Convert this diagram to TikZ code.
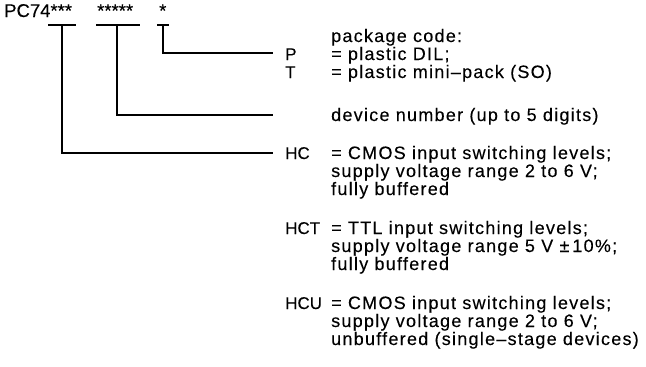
\documentclass[tikz,border=0pt]{standalone}
\usepackage{fontspec}
\setmainfont{Liberation Sans}[FakeBold=0.15]
\newfontfamily\descfont{Liberation Sans}[LetterSpace=7,FakeBold=0.15]
\begin{document}
\begin{tikzpicture}[x=1pt,y=-1pt,
  lbl/.style={anchor=base west,inner sep=0pt,font=\fontsize{17}{18}\selectfont},
  hdr/.style={anchor=base west,inner sep=0pt,font=\fontsize{18.5}{18}\selectfont},
  txt/.style={anchor=base west,inner sep=0pt,font=\descfont\fontsize{18}{18}\selectfont},
  bar/.style={line width=1.8pt}]
\useasboundingbox (0,0) rectangle (646,367);
% code header
\node[hdr] (pc) at (4,17) {PC74***};
\node[hdr] (s5) at (97,17) {*****};
\node[hdr] (s1) at (159,17) {*};
% left labels
\node[lbl] (p) at (285,60) {P};
\node[lbl] (t) at (285,78) {T};
\node[lbl] (hc) at (285,159) {HC};
\node[lbl] (hct) at (285,234) {HCT};
\node[lbl] (hcu) at (285,309) {HCU};
% right descriptions
\node[txt] (pk) at (331,42) {package code:};
\node[txt] (pk1) at (331,60) {= plastic DIL;};
\node[txt] (pk2) at (331,78) {= plastic mini–pack (SO)};
\node[txt] (dn) at (331,121) {device number (up to 5 digits)};
\node[txt] (hc1) at (331,159) {= CMOS input switching levels;};
\node[txt] (hc2) at (331,177) {supply voltage range 2 to 6 V;};
\node[txt] (hc3) at (331,195) {fully buffered};
\node[txt] (hct1) at (331,234) {= TTL input switching levels;};
\node[txt] (hct2) at (331,252) {supply voltage range 5 V ±\,10\%;};
\node[txt] (hct3) at (331,270) {fully buffered};
\node[txt] (hcu1) at (331,309) {= CMOS input switching levels;};
\node[txt] (hcu2) at (331,327) {supply voltage range 2 to 6 V;};
\node[txt] (hcu3) at (331,345) {unbuffered (single–stage devices)};
% brackets
\coordinate (a1) at (48,25); \coordinate (a2) at (76,25); \coordinate (a) at (62,25);
\coordinate (b1) at (96,25); \coordinate (b2) at (140,25); \coordinate (b) at (117,25);
\coordinate (c1) at (157,25); \coordinate (c2) at (169,25); \coordinate (c) at (163,25);
\coordinate (ea) at (273,153);
\coordinate (eb) at (273,115);
\coordinate (ec) at (273,53);
\draw[bar] (a1) -- (a2);
\draw[bar] (b1) -- (b2);
\draw[bar] (c1) -- (c2);
\draw[bar] (a) |- (ea);
\draw[bar] (b) |- (eb);
\draw[bar] (c) |- (ec);
\end{tikzpicture}
\end{document}
